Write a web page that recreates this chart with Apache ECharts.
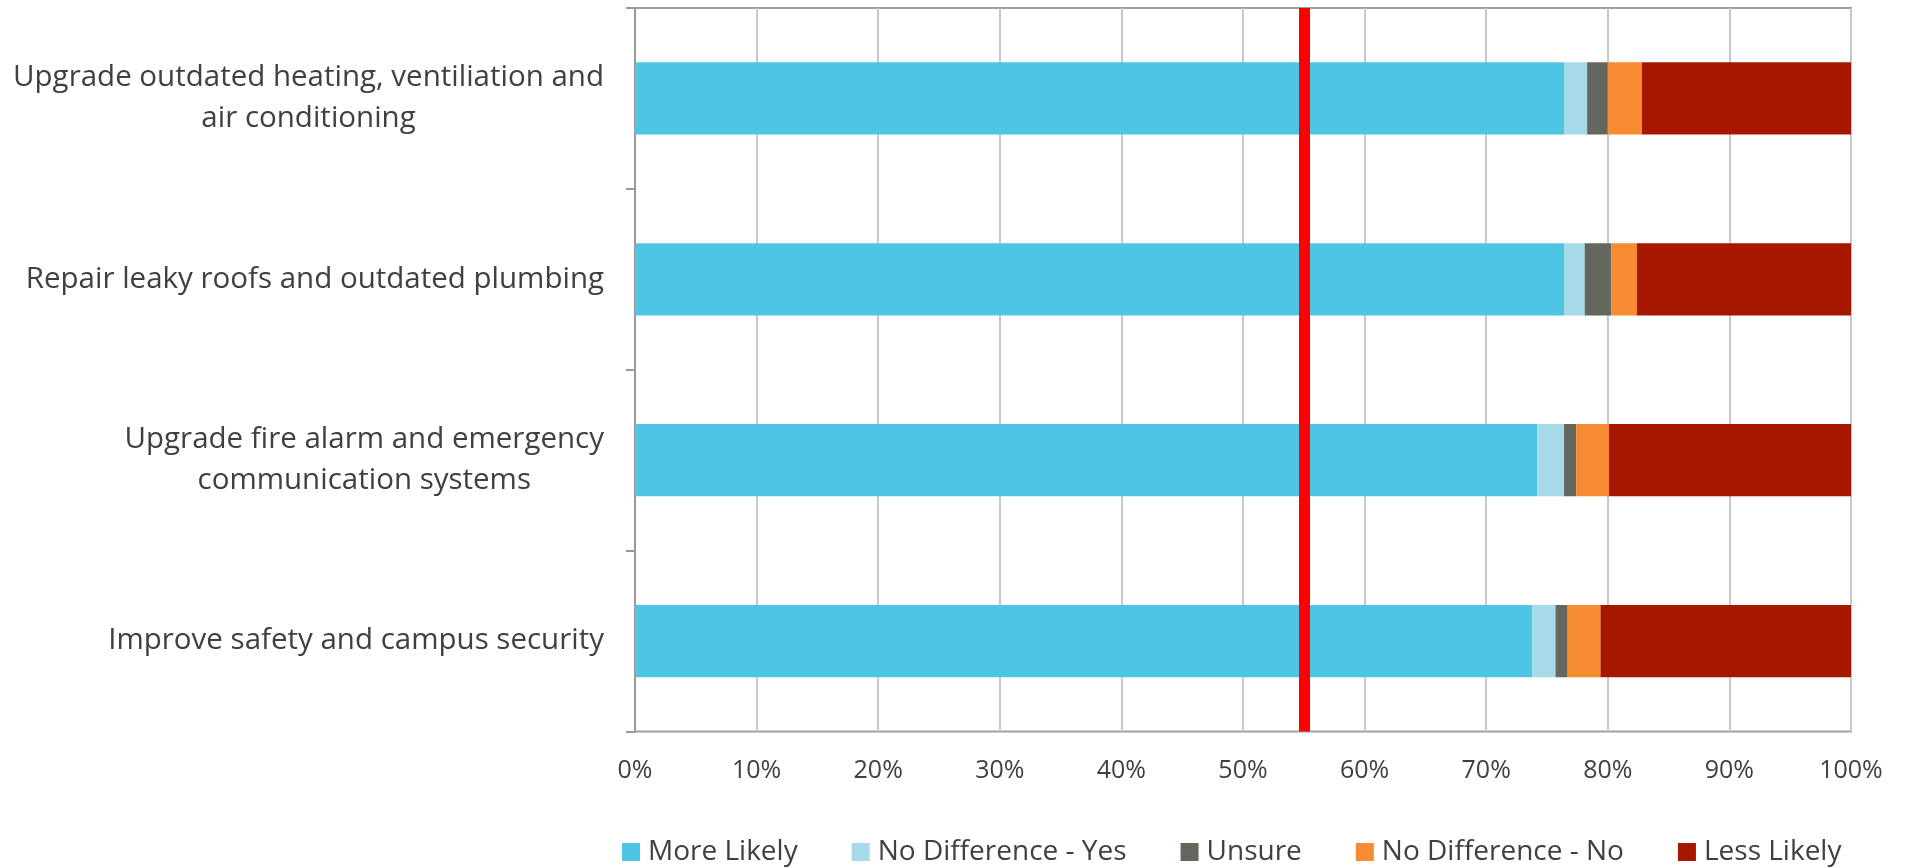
<!DOCTYPE html>
<html>
<head>
<meta charset="utf-8">
<script src="https://cdn.jsdelivr.net/npm/echarts@6/dist/echarts.min.js"></script>
<style>
  html, body { margin: 0; padding: 0; background: #ffffff; }
  #chart { width: 1906px; height: 868px; }
</style>
</head>
<body>
<div id="chart"></div>
<script>
// ---- data ----
var categories = [
  "Upgrade outdated heating, ventiliation and\nair conditioning",
  "Repair leaky roofs and outdated plumbing",
  "Upgrade fire alarm and emergency\ncommunication systems",
  "Improve safety and campus security"
];
var seriesNames = ["More Likely", "No Difference - Yes", "Unsure", "No Difference - No", "Less Likely"];
var moreLikely   = [76.4, 76.4, 74.2, 73.8];
var noDiffYes    = [1.9, 1.7, 2.2, 1.9];
var unsure       = [1.7, 2.2, 1.0, 1.0];
var noDiffNo     = [2.8, 2.1, 2.7, 2.7];
var lessLikely   = [17.2, 17.6, 19.9, 20.6];
var referenceLine = [55];
var xTicks = { min: 0, max: 100, interval: 10 };

// ---- styles ----
var colors = ["#4FC5E6", "#A6DAE8", "#65675E", "#F78B34", "#A71700"];
var textColor = "#404040";
var font = "Open Sans";

var seriesData = [moreLikely, noDiffYes, unsure, noDiffNo, lessLikely];

var series = seriesNames.map(function (name, i) {
  var s = {
    name: name,
    type: "bar",
    stack: "total",
    barCategoryGap: "60%",
    data: seriesData[i],
    itemStyle: { color: colors[i] },
    emphasis: { disabled: true }
  };
  if (i === seriesNames.length - 1) {
    s.markLine = {
      silent: true,
      symbol: ["none", "none"],
      label: { show: false },
      lineStyle: { color: "#FF0000", width: 11, type: "solid" },
      data: referenceLine.map(function (v) { return { xAxis: v }; }),
      animation: false
    };
  }
  return s;
});

var chart = echarts.init(document.getElementById("chart"), null, { renderer: "canvas" });
chart.setOption({
  animation: false,
  grid: {
    left: 635, right: 55, top: 8, bottom: 136.5,
    show: true, borderColor: "#A0A0A0", borderWidth: 2, backgroundColor: "transparent"
  },
  legend: {
    data: seriesNames,
    left: 617,
    top: 833,
    itemWidth: 18,
    itemHeight: 18,
    itemGap: 54,
    icon: "rect",
    textStyle: { fontFamily: font, fontSize: 28, color: textColor, lineHeight: 28, padding: [0, 0, 0, 3] }
  },
  xAxis: {
    type: "value",
    min: xTicks.min, max: xTicks.max, interval: xTicks.interval,
    axisLine: { show: false },
    axisTick: { show: false },
    splitLine: { show: true, lineStyle: { color: "#C8C8C8", width: 2 } },
    axisLabel: {
      formatter: "{value}%",
      fontFamily: font, fontSize: 25, color: textColor, margin: 27
    }
  },
  yAxis: {
    type: "category",
    inverse: true,
    data: categories,
    axisLine: { show: true, lineStyle: { color: "#999999", width: 2 } },
    axisTick: { show: true, length: 9, lineStyle: { color: "#999999", width: 2 } },
    splitLine: { show: false },
    axisLabel: {
      margin: 31,
      align: "right",
      formatter: function (v) {
        return v.split("\n").map(function (l) { return "{c|" + l + "}"; }).join("\n");
      },
      rich: {
        c: { fontFamily: font, fontSize: 29.5, color: textColor, lineHeight: 41, align: "center" }
      }
    }
  },
  series: series
});
</script>
</body>
</html>
